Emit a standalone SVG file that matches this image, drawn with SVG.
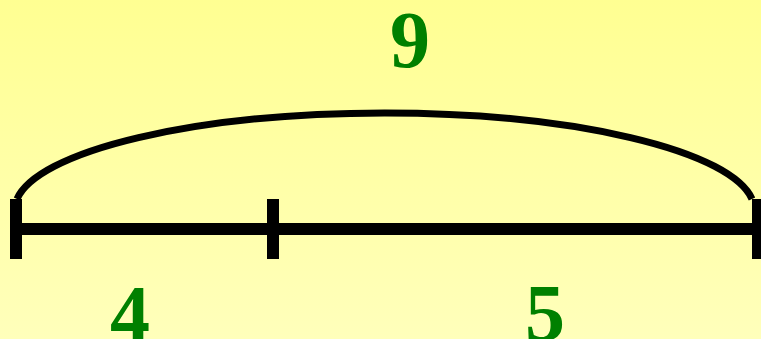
<svg xmlns="http://www.w3.org/2000/svg" width="761" height="339" viewBox="0 0 761 339">
  <defs>
    <linearGradient id="bg" x1="0" y1="0" x2="0" y2="1">
      <stop offset="0" stop-color="#FFFF92"/>
      <stop offset="1" stop-color="#FFFFBB"/>
    </linearGradient>
    <style>
      .seg { stroke: #000; stroke-width: 12; fill: none; }
      .arc { stroke: #000; stroke-width: 7; fill: none; }
      .num { font-family: "Liberation Serif", "DejaVu Serif", serif; font-weight: bold; font-size: 80px; fill: #008000; text-anchor: middle; }
    </style>
  </defs>
  <rect x="0" y="0" width="761" height="339" fill="url(#bg)"/>
  <g id="connectors">
    <path class="arc" d="M17,199 A370,97.3 0 0 1 752,199"/>
    <line class="seg" x1="16" y1="229" x2="197" y2="229"/>
    <line class="seg" x1="197" y1="229" x2="758" y2="229"/>
  </g>
  <g id="tick-left"><line class="seg" x1="16" y1="199" x2="16" y2="259"/></g>
  <g id="tick-mid"><line class="seg" x1="273" y1="199" x2="273" y2="259"/></g>
  <g id="tick-right"><line class="seg" x1="758" y1="199" x2="758" y2="259"/></g>
  <g id="label-total"><text class="num" x="410" y="67">9</text></g>
  <g id="label-left"><text class="num" x="130" y="341">4</text></g>
  <g id="label-right"><text class="num" x="545" y="340">5</text></g>
</svg>
